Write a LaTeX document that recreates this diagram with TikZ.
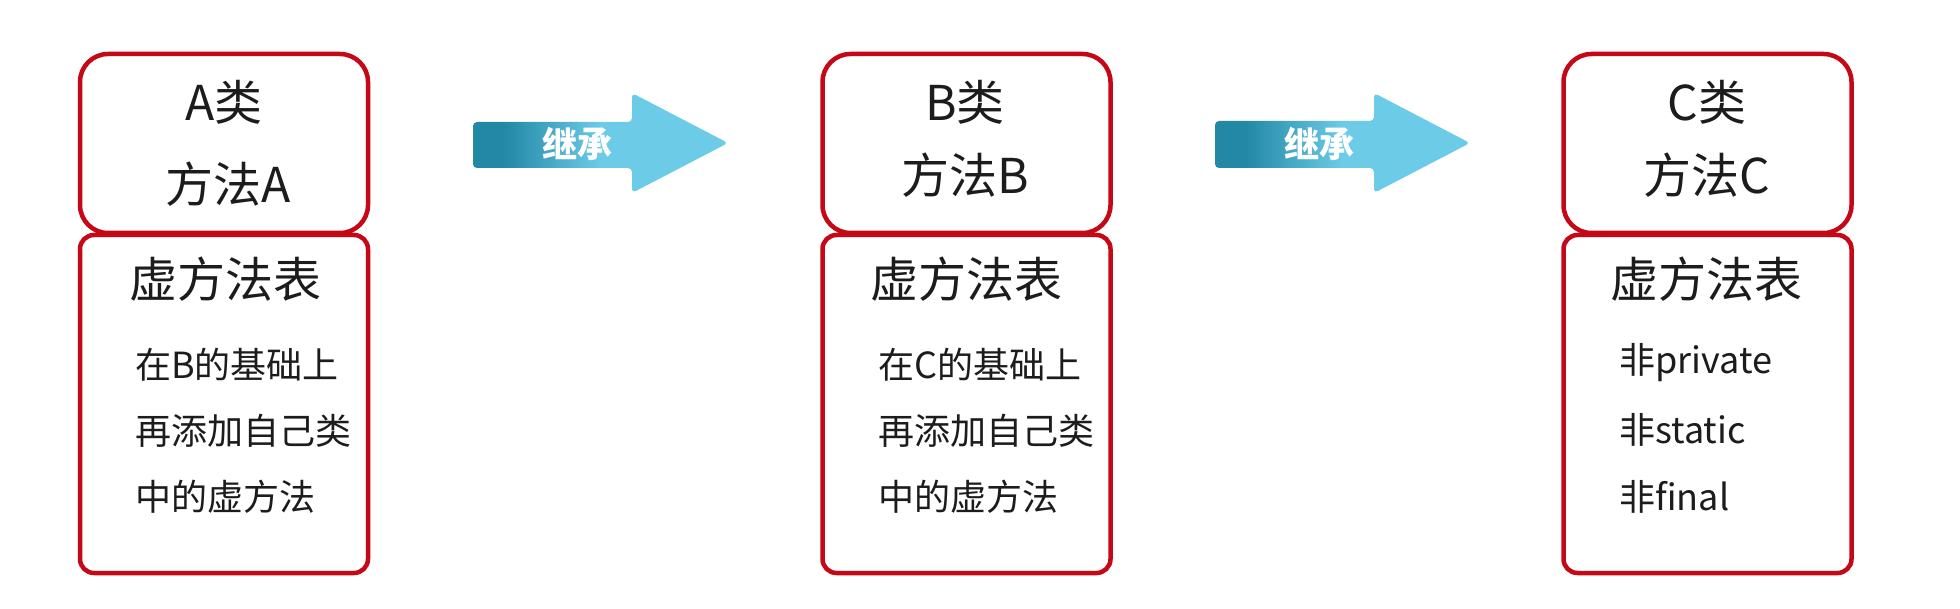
\documentclass[tikz,border=0pt]{standalone}
\usepackage{fontspec}
\setmainfont{Noto Sans CJK SC}
\definecolor{boxred}{RGB}{198,8,22}
\definecolor{txt}{RGB}{28,28,28}
\definecolor{ardark}{RGB}{34,136,166}
\definecolor{arlight}{RGB}{108,203,231}
\pgfdeclarehorizontalshading{arrowgrad}{100bp}{color(0bp)=(ardark); color(25bp)=(ardark); color(31bp)=(ardark); color(50bp)=(arlight); color(100bp)=(arlight)}
\tikzset{
  topbox/.style={draw=boxred, line width=4.5pt, rounded corners=28pt, fill=white,
    minimum width=288pt, minimum height=179pt, inner sep=0pt},
  botbox/.style={draw=boxred, line width=4.5pt, rounded corners=14pt, fill=white,
    minimum width=288pt, minimum height=338pt, inner sep=0pt},
  title/.style={text=txt, font=\fontsize{48}{52}\selectfont, inner sep=0pt},
  head/.style={text=txt, font=\fontsize{48}{52}\selectfont, inner sep=0pt},
  entry/.style={text=txt, font=\fontsize{36}{40}\selectfont, inner sep=0pt, anchor=west},
  arrowshape/.style={shading=arrowgrad, rounded corners=4pt},
  arrowtext/.style={text=white, font=\fontsize{35}{38}\selectfont\bfseries, inner sep=0pt}
}
\begin{document}
\begin{tikzpicture}[x=1pt,y=-1pt]
\useasboundingbox (0,0) rectangle (1960,609);
\fill[white] (0,0) rectangle (1960,609);

% Box A
\node[topbox] (Atop) at (224,143.5) {};
\node[botbox] (Abot) at (224,404) {};
\node[title] (Aname) at (224,102) {A类};
\node[title] (Ameth) at (228,184) {方法A};
\node[head] (Ahead) at (225,279) {虚方法表};
\node[entry] (Al1) at (135,365) {在B的基础上};
\node[entry] (Al2) at (135,431) {再添加自己类};
\node[entry] (Al3) at (135,497) {中的虚方法};

% Box B
\node[topbox] (Btop) at (966.5,143.5) {};
\node[botbox] (Bbot) at (966.5,404) {};
\node[title] (Bname) at (965,102) {B类};
\node[title] (Bmeth) at (965,175) {方法B};
\node[head] (Bhead) at (966,279) {虚方法表};
\node[entry] (Bl1) at (878,365) {在C的基础上};
\node[entry] (Bl2) at (878,431) {再添加自己类};
\node[entry] (Bl3) at (878,497) {中的虚方法};

% Box C
\node[topbox] (Ctop) at (1707.5,143.5) {};
\node[botbox] (Cbot) at (1707.5,404) {};
\node[title] (Cname) at (1707,102) {C类};
\node[title] (Cmeth) at (1707,175) {方法C};
\node[head] (Chead) at (1706,279) {虚方法表};
\node[entry] (Cl1) at (1619,363) {非private};
\node[entry] (Cl2) at (1619,430) {非static};
\node[entry] (Cl3) at (1619,497) {非final};

% Arrow 1
\shade[arrowshape] (473,122) -- (632,122) -- (632,93) -- (728,143) -- (632,193) -- (632,168) -- (473,168) -- cycle;
\node[arrowtext] (inh1) at (577,144) {继承};

% Arrow 2
\shade[arrowshape] (1215,121) -- (1374,121) -- (1374,93) -- (1470,143) -- (1374,193) -- (1374,168) -- (1215,168) -- cycle;
\node[arrowtext] (inh2) at (1319,144) {继承};
\end{tikzpicture}
\end{document}
